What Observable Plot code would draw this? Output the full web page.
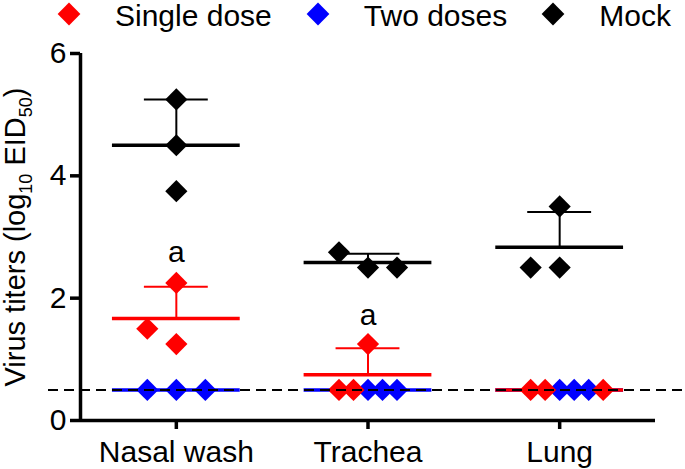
<!DOCTYPE html>
<html>
<head>
<meta charset="utf-8">
<script src="https://cdn.jsdelivr.net/npm/d3@7"></script>
<script src="https://cdn.jsdelivr.net/npm/@observablehq/plot@0.6"></script>
<style>
  html, body { margin: 0; padding: 0; background: #fff; }
  body { width: 685px; height: 469px; overflow: hidden; font-family: "Liberation Sans", Arial, sans-serif; }
  #legend { display: flex; align-items: center; height: 34px; line-height: 34px; padding-left: 57px; font-size: 30px; color: #000; white-space: nowrap; }
  #legend .item { display: flex; align-items: center; margin-right: 34px; }
  #legend svg { margin-right: 34px; position: relative; top: -3px; }
  #legend span { position: relative; top: -1px; }
</style>
</head>
<body>
<div id="legend"></div>
<div id="chart"></div>
<script>
// ---- data ----
const organs = ["Nasal wash", "Trachea", "Lung"];
const groups = ["Single dose", "Two doses", "Mock"];
const groupColors = ["#ff0000", "#0000ff", "#000000"];

// log10 EID50 per animal, one inner list per organ (same order as organs)
const singleDose = [[2.25, 1.5, 1.25], [1.25, 0.5, 0.5], [0.5, 0.5, 0.5]];
const twoDoses   = [[0.5, 0.5, 0.5],  [0.5, 0.5, 0.5],  [0.5, 0.5, 0.5]];
const mock       = [[5.25, 4.5, 3.75], [2.75, 2.5, 2.5], [3.5, 2.5, 2.5]];

// scatter column of each animal (Prism-style arrangement, in column units)
const singleSlots = [[0, -2, 0], [0, -2, -1], [-2, -1, 3]];
const twoSlots    = [[-2, 0, 2], [0, 1, 2], [0, 1, 2]];
const mockSlots   = [[0, 0, 0], [-2, 0, 2], [0, -2, 0]];

const yTicks = [0, 2, 4, 6];
const detectionLimit = 0.5;

const annotOrgans = ["Nasal wash", "Trachea"];
const annotY = [2.75, 1.72];
const annotText = ["a", "a"];

// ---- build tables ----
const seriesValues = [singleDose, twoDoses, mock];
const seriesSlots = [singleSlots, twoSlots, mockSlots];
const slotWidth = 0.0757;

const points = [];
const stats = [];
groups.forEach((g, gi) => {
  organs.forEach((o, oi) => {
    const vals = seriesValues[gi][oi];
    vals.forEach((v, k) => points.push({group: g, gi, organ: o, oi, value: v, slot: seriesSlots[gi][oi][k]}));
    stats.push({group: g, gi, organ: o, oi, mean: d3.mean(vals), sd: d3.deviation(vals) || 0});
  });
});
const drawOrder = [1, 0, 2]; // two doses, single dose, mock
const sortBy = arr => arr.slice().sort((a, b) => drawOrder.indexOf(a.gi) - drawOrder.indexOf(b.gi));
const statsSorted = sortBy(stats);
const pointsSorted = sortBy(points);
const statsSd = statsSorted.filter(d => d.sd > 0);
const annots = annotOrgans.map((o, i) => ({oi: organs.indexOf(o), y: annotY[i], text: annotText[i]}));

// ---- legend ----
const legend = d3.select("#legend");
groups.forEach((g, i) => {
  const item = legend.append("div").attr("class", "item");
  const s = item.append("svg").attr("width", 24).attr("height", 24);
  s.append("path").attr("d", d3.symbol(d3.symbolDiamond2, 330)()).attr("transform", "translate(12,12)").attr("fill", groupColors[i]);
  item.append("span").text(g);
});

// ---- chart ----
const chart = Plot.plot({
  width: 685,
  height: 435,
  marginLeft: 80,
  marginRight: 30,
  marginTop: 19,
  marginBottom: 49,
  style: {fontFamily: "'Liberation Sans', Arial, sans-serif", fontSize: "30px", color: "#000", background: "#fff", overflow: "visible"},
  x: {domain: [-0.5, 2.5]},
  y: {domain: [0, 6]},
  color: {domain: groups, range: groupColors},
  marks: [
    Plot.axisY({ticks: yTicks, tickFormat: "d", tickSize: 10, tickPadding: 4, strokeWidth: 3.5, fontSize: 30, label: null}),
    Plot.axisX({ticks: [0, 1, 2], tickFormat: i => organs[i], tickSize: 9, tickPadding: 11, strokeWidth: 3.5, fontSize: 30, label: null}),
    Plot.ruleY([0], {stroke: "#000", strokeWidth: 3.5}),
    Plot.ruleX([-0.5], {y1: 0, y2: 6, stroke: "#000", strokeWidth: 3.5}),
    // mean lines
    Plot.ruleY(statsSorted, {y: "mean", x1: d => d.oi - 1 / 3, x2: d => d.oi + 1 / 3, stroke: "group", strokeWidth: 3.5}),
    // SD bars (upper)
    Plot.ruleX(statsSd, {x: "oi", y1: "mean", y2: d => d.mean + d.sd, stroke: "group", strokeWidth: 2}),
    Plot.ruleY(statsSd, {y: d => d.mean + d.sd, x1: d => d.oi - 1 / 6, x2: d => d.oi + 1 / 6, stroke: "group", strokeWidth: 2}),
    // animals
    Plot.dot(pointsSorted, {x: d => d.oi + d.slot * slotWidth, y: "value", fill: "group", symbol: "diamond2", r: 10}),
    // significance letters
    Plot.text(annots, {x: "oi", y: "y", text: "text", fontSize: 30, fill: "#000"}),
    // limit of detection
    Plot.ruleY([detectionLimit], {stroke: "#000", strokeWidth: 2, strokeDasharray: "10,6", insetLeft: -32, insetRight: -30})
  ]
});
document.getElementById("chart").appendChild(chart);

// y-axis title with subscripts
const yl = d3.select(chart).append("text")
  .attr("transform", "translate(25,203) rotate(-90)")
  .attr("text-anchor", "middle")
  .attr("fill", "#000")
  .style("font-size", "29px");
yl.append("tspan").text("Virus titers (log");
yl.append("tspan").attr("dy", 7).style("font-size", "18px").text("10");
yl.append("tspan").attr("dy", -7).text(" EID");
yl.append("tspan").attr("dy", 7).style("font-size", "18px").text("50");
yl.append("tspan").attr("dy", -7).text(")");
</script>
</body>
</html>
